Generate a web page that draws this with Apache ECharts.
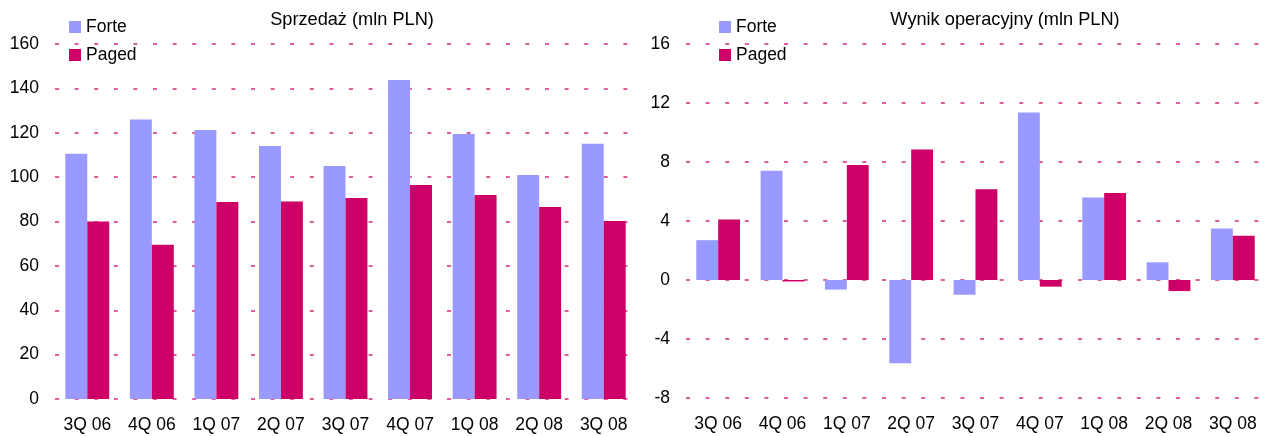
<!DOCTYPE html>
<html lang="pl">
<head>
    <meta charset="UTF-8">
    <title>Forte vs Paged</title>
    <script src="https://cdn.jsdelivr.net/npm/echarts@6/dist/echarts.min.js"></script>
    <style>
        html, body { margin: 0; padding: 0; background: #fff; }
    </style>
</head>
<body>
    <div id="chart" style="width:1265px;height:436px;"></div>
<script>
    // kwartały
    var quarters = ['3Q 06', '4Q 06', '1Q 07', '2Q 07', '3Q 07', '4Q 07', '1Q 08', '2Q 08', '3Q 08'];

    // sprzedaż (mln PLN)
    var salesForte = [110.5, 126, 121.2, 114, 105, 143.8, 119.4, 101, 115];
    var salesPaged = [80, 69.5, 88.8, 89, 90.6, 96.4, 92, 86.5, 80.2];

    // wynik operacyjny (mln PLN)
    var ebitForte = [2.7, 7.4, -0.65, -5.65, -1.0, 11.35, 5.6, 1.2, 3.5];
    var ebitPaged = [4.1, -0.1, 7.8, 8.85, 6.15, -0.45, 5.9, -0.75, 3.0];

    var FORTE = '#9999FF';
    var PAGED = '#CC0066';
    var FONT = 'Liberation Sans, Arial, sans-serif';

    var chart = echarts.init(document.getElementById('chart'));

    function catAxis(idx) {
        return {
            type: 'category',
            gridIndex: idx,
            data: quarters,
            axisLine: { show: false, onZero: false },
            axisTick: { show: false },
            axisLabel: { color: '#000', fontSize: 17.5, fontFamily: FONT, margin: 17 }
        };
    }

    function valAxis(idx, min, max, step) {
        return {
            type: 'value',
            gridIndex: idx,
            min: min,
            max: max,
            interval: step,
            axisLine: { show: false },
            axisTick: { show: false },
            axisLabel: { color: '#000', fontSize: 17.5, fontFamily: FONT, margin: 16 },
            splitLine: {
                lineStyle: { color: PAGED, width: 1.5, type: [4, 15.6], opacity: 0.85 }
            }
        };
    }

    function bar(name, idx, data, color) {
        return {
            name: name,
            type: 'bar',
            xAxisIndex: idx,
            yAxisIndex: idx,
            data: data,
            barGap: 0,
            barCategoryGap: '32%',
            itemStyle: { color: color },
            silent: true
        };
    }

    function legendAt(x) {
        return {
            orient: 'vertical',
            left: x,
            top: 18,
            padding: 0,
            icon: 'rect',
            itemWidth: 12,
            itemHeight: 12,
            itemGap: 10,
            textStyle: { color: '#000', fontSize: 17.5, lineHeight: 17, fontFamily: FONT, padding: [0, 0, 0, 0] },
            data: ['Forte', 'Paged'],
            selectedMode: false
        };
    }

    var titleStyle = { fontSize: 18.2, fontWeight: 'normal', color: '#000', fontFamily: FONT };

    var options = {
        animation: false,
        backgroundColor: '#fff',
        title: [{
            text: 'Sprzedaż (mln PLN)',
            left: 347,
            top: 6,
            textAlign: 'center',
            textStyle: titleStyle
        }, {
            text: 'Wynik operacyjny (mln PLN)',
            left: 1000,
            top: 6,
            textAlign: 'center',
            textStyle: titleStyle
        }],
        legend: [legendAt(69), legendAt(719)],
        grid: [
            { left: 55, right: 629, top: 44, bottom: 37 },
            { left: 686, right: -9, top: 44, bottom: 38 }
        ],
        xAxis: [catAxis(0), catAxis(1)],
        yAxis: [valAxis(0, 0, 160, 20), valAxis(1, -8, 16, 4)],
        series: [
            bar('Forte', 0, salesForte, FORTE),
            bar('Paged', 0, salesPaged, PAGED),
            bar('Forte', 1, ebitForte, FORTE),
            bar('Paged', 1, ebitPaged, PAGED)
        ]
    };

    chart.setOption(options);
</script>
</body>
</html>
